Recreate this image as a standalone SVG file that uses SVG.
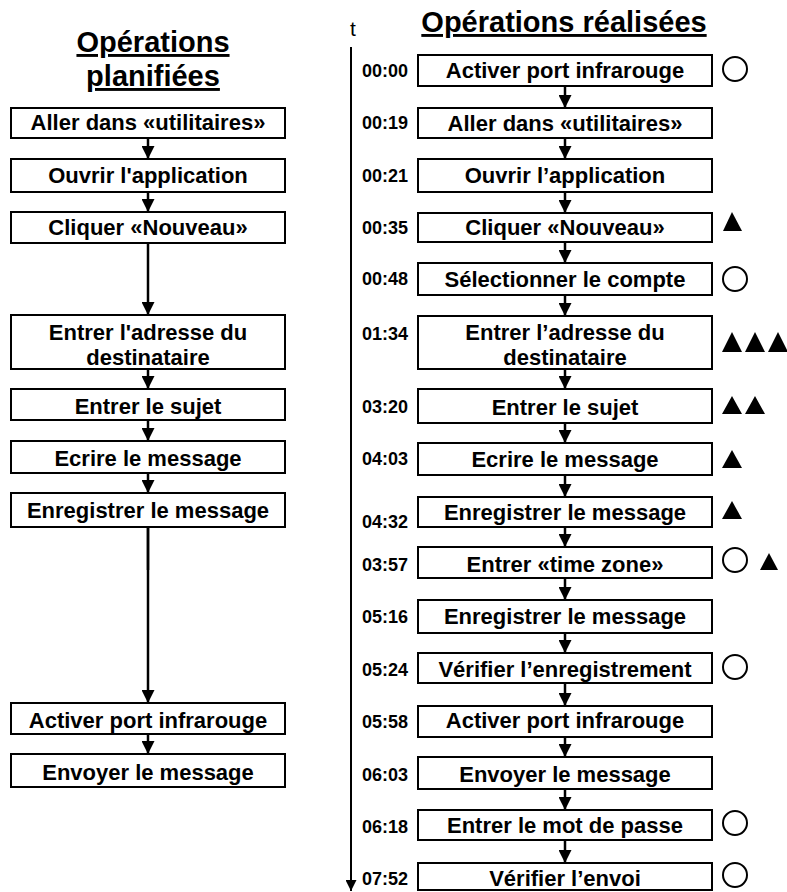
<svg xmlns="http://www.w3.org/2000/svg" width="787" height="892" viewBox="0 0 787 892">
<style>
.bg{fill:#fff}
.box{fill:#fff;stroke:#000;stroke-width:2}
.lbl{font-family:"Liberation Sans",Arial,sans-serif;font-weight:bold;font-size:22px;fill:#000;text-anchor:middle}
.title{font-family:"Liberation Sans",Arial,sans-serif;font-weight:bold;font-size:29px;fill:#000;text-anchor:middle;text-decoration:underline}
.time{font-family:"Liberation Sans",Arial,sans-serif;font-weight:bold;font-size:18px;fill:#000}
.conn{fill:none;stroke:#000;stroke-width:2.5}
.axis{fill:none;stroke:#000;stroke-width:2}
.circ{fill:#fff;stroke:#000;stroke-width:2}
.tri{fill:#000}
</style>
<defs>
<marker id="ah" viewBox="0 0 10 10" refX="10" refY="5" markerUnits="userSpaceOnUse" markerWidth="13" markerHeight="13" orient="auto">
<path d="M0,0 L10,5 L0,10 z" fill="#000"/>
</marker>
<marker id="ahs" viewBox="0 0 10 10" refX="10" refY="5" markerUnits="userSpaceOnUse" markerWidth="11" markerHeight="11" orient="auto">
<path d="M0,0 L10,5 L0,10 z" fill="#000"/>
</marker>
</defs>
<rect class="bg" x="0" y="0" width="787" height="892"/>

<g id="titles">
<text class="title" x="153" y="52">Opérations</text>
<text class="title" x="153" y="86">planifiées</text>
<text class="title" x="564" y="32">Opérations réalisées</text>
<text x="353" y="36" font-family="Liberation Sans,Arial,sans-serif" font-size="21" text-anchor="middle">t</text>
</g>

<g id="connectors">
<path class="axis" d="M351,47 V891" marker-end="url(#ahs)"/>
<path class="conn" d="M148,138 V159" marker-end="url(#ah)"/>
<path class="conn" d="M148,192 V212" marker-end="url(#ah)"/>
<path class="conn" d="M148,243 V315" marker-end="url(#ah)"/>
<path class="conn" d="M148,369 V389" marker-end="url(#ah)"/>
<path class="conn" d="M148,420 V441" marker-end="url(#ah)"/>
<path class="conn" d="M148,473 V493" marker-end="url(#ah)"/>
<path class="conn" d="M148,527 V703" marker-end="url(#ah)"/>
<path class="conn" d="M148,527 V570" stroke-width="4"/>
<path class="conn" d="M148,734 V754" marker-end="url(#ah)"/>
<path class="conn" d="M565,86 V108" marker-end="url(#ah)"/>
<path class="conn" d="M565,138 V159" marker-end="url(#ah)"/>
<path class="conn" d="M565,192 V213" marker-end="url(#ah)"/>
<path class="conn" d="M565,242 V263" marker-end="url(#ah)"/>
<path class="conn" d="M565,295 V316" marker-end="url(#ah)"/>
<path class="conn" d="M565,369 V389" marker-end="url(#ah)"/>
<path class="conn" d="M565,423 V443" marker-end="url(#ah)"/>
<path class="conn" d="M565,475 V497" marker-end="url(#ah)"/>
<path class="conn" d="M565,527 V547" marker-end="url(#ah)"/>
<path class="conn" d="M565,578 V600" marker-end="url(#ah)"/>
<path class="conn" d="M565,633 V653" marker-end="url(#ah)"/>
<path class="conn" d="M565,683 V706" marker-end="url(#ah)"/>
<path class="conn" d="M565,737 V757" marker-end="url(#ah)"/>
<path class="conn" d="M565,789 V810" marker-end="url(#ah)"/>
<path class="conn" d="M565,840 V863" marker-end="url(#ah)"/>
</g>

<g id="planned">
<g id="p1"><rect class="box" x="11" y="108" width="274" height="30"/><text class="lbl" x="148" y="130">Aller dans «utilitaires»</text></g>
<g id="p2"><rect class="box" x="11" y="159" width="274" height="33"/><text class="lbl" x="148" y="183">Ouvrir l'application</text></g>
<g id="p3"><rect class="box" x="11" y="212" width="274" height="31"/><text class="lbl" x="148" y="235">Cliquer «Nouveau»</text></g>
<g id="p4"><rect class="box" x="11" y="315" width="274" height="54"/><text class="lbl" x="148" y="340">Entrer l'adresse du</text><text class="lbl" x="148" y="365">destinataire</text></g>
<g id="p5"><rect class="box" x="11" y="389" width="274" height="31"/><text class="lbl" x="148" y="414">Entrer le sujet</text></g>
<g id="p6"><rect class="box" x="11" y="441" width="274" height="32"/><text class="lbl" x="148" y="466">Ecrire le message</text></g>
<g id="p7"><rect class="box" x="11" y="493" width="274" height="34"/><text class="lbl" x="148" y="518">Enregistrer le message</text></g>
<g id="p8"><rect class="box" x="11" y="703" width="274" height="31"/><text class="lbl" x="148" y="728">Activer port infrarouge</text></g>
<g id="p9"><rect class="box" x="11" y="754" width="274" height="33"/><text class="lbl" x="148" y="780">Envoyer le message</text></g>
</g>

<g id="done">
<g id="r1"><text class="time" x="362" y="77">00:00</text><rect class="box" x="418" y="55" width="294" height="31"/><text class="lbl" x="565" y="78">Activer port infrarouge</text><circle class="circ" cx="735" cy="69" r="12"/></g>
<g id="r2"><text class="time" x="362" y="129">00:19</text><rect class="box" x="418" y="108" width="294" height="30"/><text class="lbl" x="565" y="131">Aller dans «utilitaires»</text></g>
<g id="r3"><text class="time" x="362" y="182">00:21</text><rect class="box" x="418" y="159" width="294" height="33"/><text class="lbl" x="565" y="183">Ouvrir l’application</text></g>
<g id="r4"><text class="time" x="362" y="234">00:35</text><rect class="box" x="418" y="213" width="294" height="29"/><text class="lbl" x="565" y="235">Cliquer «Nouveau»</text><path class="tri" d="M732,212 L742,231 L723,231 z"/></g>
<g id="r5"><text class="time" x="362" y="285">00:48</text><rect class="box" x="418" y="263" width="294" height="32"/><text class="lbl" x="565" y="287">Sélectionner le compte</text><circle class="circ" cx="735" cy="279" r="12"/></g>
<g id="r6"><text class="time" x="362" y="340">01:34</text><rect class="box" x="418" y="316" width="294" height="53"/><text class="lbl" x="565" y="340">Entrer l’adresse du</text><text class="lbl" x="565" y="365">destinataire</text><path class="tri" d="M732,332 L742,352 L722,352 z M755,332 L765,352 L745,352 z M778,332 L788,352 L768,352 z"/></g>
<g id="r7"><text class="time" x="362" y="413">03:20</text><rect class="box" x="418" y="389" width="294" height="34"/><text class="lbl" x="565" y="415">Entrer le sujet</text><path class="tri" d="M732,396 L742,414 L722,414 z M755,396 L765,414 L745,414 z"/></g>
<g id="r8"><text class="time" x="362" y="465">04:03</text><rect class="box" x="418" y="443" width="294" height="32"/><text class="lbl" x="565" y="467">Ecrire le message</text><path class="tri" d="M732,450 L742,468 L722,468 z"/></g>
<g id="r9"><text class="time" x="362" y="528">04:32</text><rect class="box" x="418" y="497" width="294" height="30"/><text class="lbl" x="565" y="520">Enregistrer le message</text><path class="tri" d="M732,501 L742,519 L722,519 z"/></g>
<g id="r10"><text class="time" x="362" y="571">03:57</text><rect class="box" x="418" y="547" width="294" height="31"/><text class="lbl" x="565" y="572">Entrer «time zone»</text><circle class="circ" cx="735" cy="560" r="12"/><path class="tri" d="M769,553 L778,570 L760,570 z"/></g>
<g id="r11"><text class="time" x="362" y="623">05:16</text><rect class="box" x="418" y="600" width="294" height="33"/><text class="lbl" x="565" y="624">Enregistrer le message</text></g>
<g id="r12"><text class="time" x="362" y="676">05:24</text><rect class="box" x="418" y="653" width="294" height="30"/><text class="lbl" x="565" y="677">Vérifier l’enregistrement</text><circle class="circ" cx="735" cy="667" r="12"/></g>
<g id="r13"><text class="time" x="362" y="728">05:58</text><rect class="box" x="418" y="706" width="294" height="31"/><text class="lbl" x="565" y="728">Activer port infrarouge</text></g>
<g id="r14"><text class="time" x="362" y="781">06:03</text><rect class="box" x="418" y="757" width="294" height="32"/><text class="lbl" x="565" y="782">Envoyer le message</text></g>
<g id="r15"><text class="time" x="362" y="833">06:18</text><rect class="box" x="418" y="810" width="294" height="30"/><text class="lbl" x="565" y="833">Entrer le mot de passe</text><circle class="circ" cx="735" cy="823" r="12"/></g>
<g id="r16"><text class="time" x="362" y="885">07:52</text><rect class="box" x="418" y="863" width="294" height="27"/><text class="lbl" x="565" y="886">Vérifier l’envoi</text><circle class="circ" cx="735" cy="875" r="12"/></g>
</g>
</svg>
